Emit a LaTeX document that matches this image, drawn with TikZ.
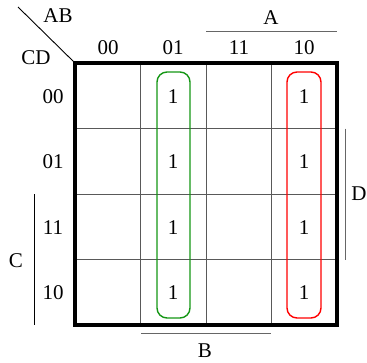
\documentclass[tikz,border=0pt]{standalone}
\usepackage{fontspec}
\setmainfont{Liberation Serif}
\begin{document}
\begin{tikzpicture}[x=1pt,y=-1pt,
  lbl/.style={font=\fontsize{21}{23}\selectfont, inner sep=0pt},
  grid/.style={draw=black!65, line width=1pt},
  outer/.style={draw=black, line width=3.2pt},
  bar/.style={draw=black!60, line width=1pt},
  grp/.style={line width=1.4pt, rounded corners=10pt}]
\useasboundingbox (0,0) rectangle (367,362);
% grid
\foreach \x in {140.5,206.5,271.5} \draw[grid] (\x,63) -- (\x,325);
\foreach \y in {128.5,194.5,259.5} \draw[grid] (75,\y) -- (337,\y);
\draw[outer] (75,63) rectangle (337,325);
% diagonal
\coordinate (d1) at (18,7);
\coordinate (d2) at (75,63);
\draw[line width=0.9pt] (d1) -- (d2);
\node[lbl] (ab) at (58,16) {AB};
\node[lbl] (cd) at (36,58) {CD};
% column labels
\node[lbl] (c00) at (108,48) {00};
\node[lbl] (c01) at (173,48) {01};
\node[lbl] (c11) at (239,48) {11};
\node[lbl] (c10) at (304,48) {10};
% row labels
\node[lbl] (r00) at (53,97) {00};
\node[lbl] (r01) at (53,162) {01};
\node[lbl] (r11) at (53,228) {11};
\node[lbl] (r10) at (53,293) {10};
% ones
\foreach \y/\n in {97/a,162/b,228/c,293/d} {
  \node[lbl] (g\n) at (173,\y) {1};
  \node[lbl] (h\n) at (304,\y) {1};
}
% groups
\draw[grp, draw={rgb,255:red,20;green,150;blue,20}] (157,72) rectangle (190,318);
\draw[grp, draw=red] (287,72) rectangle (321,318);
% variable bars
\draw[bar] (206,31.5) -- (337,31.5);
\node[lbl] (A) at (271,18) {A};
\draw[bar] (141,333.5) -- (271,333.5);
\node[lbl] (B) at (205,351) {B};
\draw[draw=black, line width=0.9pt] (34,194) -- (34,325);
\node[lbl] (C) at (16,261) {C};
\draw[bar] (345.5,128.5) -- (345.5,259.5);
\node[lbl] (D) at (359,194) {D};
\end{tikzpicture}
\end{document}
